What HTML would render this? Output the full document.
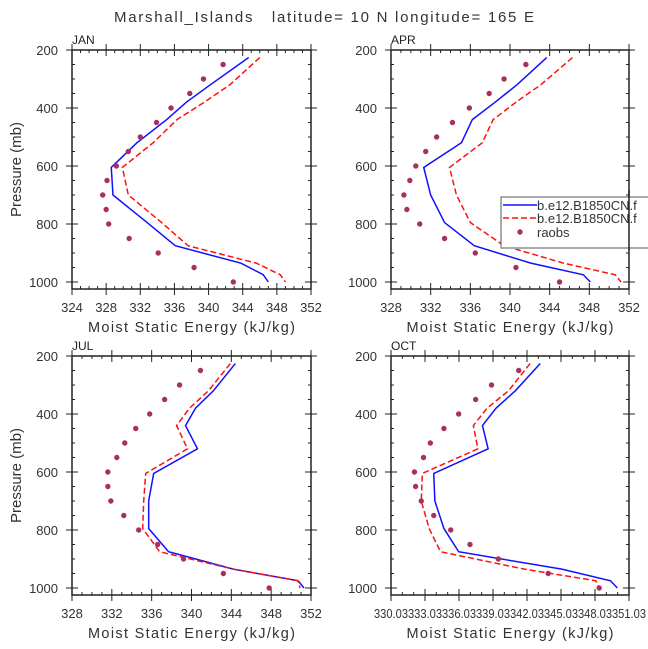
<!DOCTYPE html>
<html><head><meta charset="utf-8"><style>
body{margin:0;background:#fff;}
svg{display:block;font-family:"Liberation Sans",sans-serif;}
</style></head><body>
<svg id="chart" width="648" height="649" viewBox="0 0 648 649" xmlns="http://www.w3.org/2000/svg">
<text x="324" y="22" text-anchor="middle" font-size="15" fill="#333" textLength="420" xml:space="preserve">Marshall_Islands   latitude= 10 N longitude= 165 E</text>
</svg>
<script>
const modelLevels=[226,320,380,440,520,605,700,795,875,935,975,1000];
const obsLevels=[250,300,350,400,450,500,550,600,650,700,750,800,850,900,950,1000];
const seriesNames=["b.e12.B1850CN.f","b.e12.B1850CN.f","raobs"];
const janBlue=[344.7,340.2,337.4,335.1,331.6,328.6,328.8,332.8,336.1,343.8,346.4,347.0];
const janRed=[346.0,342.5,339.5,336.3,333.5,329.9,330.6,334.5,337.6,345.6,348.4,349.0];
const janObs=[341.7,339.4,337.8,335.6,333.9,332.0,330.6,329.2,328.1,327.6,328.0,328.3,330.7,334.1,338.3,342.9];
const aprBlue=[343.7,340.7,338.5,336.2,335.1,331.3,332.0,333.4,336.4,342.1,347.4,348.1];
const aprRed=[346.3,343.1,340.6,338.3,337.2,333.9,334.6,336.0,339.4,345.4,350.6,351.2];
const aprObs=[341.6,339.4,337.9,335.9,334.2,332.6,331.5,330.5,329.9,329.3,329.6,330.9,333.4,336.5,340.6,345.0];
const julBlue=[344.4,342.2,340.4,339.4,340.6,336.2,335.7,335.7,337.7,344.2,350.7,351.3];
const julRed=[343.9,341.7,339.8,338.5,339.6,335.4,335.2,335.1,336.8,344.2,350.7,350.9];
const julObs=[340.9,338.8,337.3,335.8,334.4,333.3,332.5,331.6,331.6,331.9,333.2,334.7,336.6,339.2,343.2,347.8];
const octBlue=[343.2,341.0,339.3,338.1,338.6,333.8,333.9,334.7,336.0,345.1,349.4,350.0];
const octRed=[342.3,340.4,338.5,337.3,337.7,332.8,332.7,333.4,334.4,341.8,348.1,348.4];
const octObs=[341.3,338.9,337.5,336.0,334.7,333.5,332.9,332.1,332.2,332.7,333.8,335.3,337.0,339.5,343.9,348.4];
const janXTicks=["324","328","332","336","340","344","348","352"];
const aprXTicks=["328","332","336","340","344","348","352"];
const julXTicks=["328","332","336","340","344","348","352"];
const octXTicks=["330.03","333.03","336.03","339.03","342.03","345.03","348.03","351.03"];
const yTicks=["200","400","600","800","1000"];

const NS="http://www.w3.org/2000/svg";
const svg=document.getElementById("chart");
function el(tag,attrs,parent){const e=document.createElementNS(NS,tag);for(const k in attrs)e.setAttribute(k,attrs[k]);(parent||svg).appendChild(e);return e;}

const panels=[
 {id:"jan",label:"JAN",x0:72,x1:311,top:50,y1000:282,bot:289,xmin:324,xmax:352,xstep:4,ticks:janXTicks,blue:janBlue,red:janRed,obs:janObs,ytitle:true,legend:false},
 {id:"apr",label:"APR",x0:391,x1:629,top:50,y1000:282,bot:289,xmin:328,xmax:352,xstep:4,ticks:aprXTicks,blue:aprBlue,red:aprRed,obs:aprObs,ytitle:false,legend:true},
 {id:"jul",label:"JUL",x0:72,x1:311,top:356,y1000:588,bot:595,xmin:328,xmax:352,xstep:4,ticks:julXTicks,blue:julBlue,red:julRed,obs:julObs,ytitle:true,legend:false},
 {id:"oct",label:"OCT",x0:391,x1:629,top:356,y1000:588,bot:595,xmin:330.03,xmax:351.03,xstep:3,ticks:octXTicks,blue:octBlue,red:octRed,obs:octObs,ytitle:false,legend:false}
];

panels.forEach(p=>{
 const g=el("g",{});
 
 
 const xs=v=>p.x0+(v-p.xmin)/(p.xmax-p.xmin)*(p.x1-p.x0);
 const ys=v=>p.top+(v-200)/800*(p.y1000-p.top);
 const box=el("rect",{x:p.x0,y:p.top,width:p.x1-p.x0,height:p.bot-p.top,fill:"none",stroke:"#222","stroke-width":1.5},g);
 
 
 for(let v=200;v<=1000;v+=50){
  const y=ys(v);const maj=v%200===0;const L=maj?6:3;
  el("line",{x1:p.x0-(maj?L:0),x2:p.x0+L,y1:y,y2:y,stroke:"#222"},g);
  el("line",{x1:p.x1+(maj?L:0),x2:p.x1-L,y1:y,y2:y,stroke:"#222"},g);
 }
 yTicks.forEach(t=>{
  const tl=el("text",{x:p.x0-14,y:ys(+t)+5,"text-anchor":"end","font-size":13,fill:"#333"},g);
  tl.textContent=t;
  
  
 });
 for(let i=0;;i++){
  const v=p.xmin+i;if(v>p.xmax+1e-6)break;
  const x=xs(v);const maj=Math.abs(((v-p.xmin)/p.xstep)-Math.round((v-p.xmin)/p.xstep))<1e-6;const L=maj?6:3;
  el("line",{x1:x,x2:x,y1:p.bot+(maj?L:0),y2:p.bot-L,stroke:"#222"},g);
  el("line",{x1:x,x2:x,y1:p.top-(maj?L:0),y2:p.top+L,stroke:"#222"},g);
 }
 p.ticks.forEach((t,i)=>{
  const attrs={x:xs(p.xmin+i*p.xstep),y:p.bot+23,"text-anchor":"middle","font-size":13,fill:"#333"};
  if(t.length>4){attrs.textLength=34;attrs.lengthAdjust="spacingAndGlyphs";}
  const tl=el("text",attrs,g);
  tl.textContent=t;
  
  
 });
 const xt=el("text",{x:(p.x0+p.x1)/2,y:p.bot+43,"text-anchor":"middle","font-size":14.5,fill:"#333",textLength:207},g);
 xt.textContent="Moist Static Energy (kJ/kg)";
 
 
 if(p.ytitle){
  const cy=(p.top+p.bot)/2;
  const yt=el("text",{x:0,y:0,transform:`translate(21,${cy}) rotate(-90)`,"text-anchor":"middle","font-size":15,fill:"#333"},g);
  yt.textContent="Pressure (mb)";
  
  
 }
 const lab=el("text",{x:p.x0,y:p.top-6,"font-size":12,fill:"#222"},g);
 lab.textContent=p.label;
 
 
 const bl=el("polyline",{points:modelLevels.map((l,i)=>xs(p.blue[i])+","+ys(l)).join(" "),fill:"none",stroke:"#1010ff","stroke-width":1.5},g);
 
 
 const rl=el("polyline",{points:modelLevels.map((l,i)=>xs(p.red[i])+","+ys(l)).join(" "),fill:"none",stroke:"#ff1010","stroke-width":1.5,"stroke-dasharray":"6,3"},g);
 
 
 obsLevels.forEach((l,i)=>{
  const d=el("circle",{cx:xs(p.obs[i]),cy:ys(l),r:2.7,fill:"#a8305e"},g);
  
  
 });
 if(p.legend){
  const lg=el("g",{},g);
  
  
  el("rect",{x:501,y:197,width:150,height:51,fill:"#fff",stroke:"#555","stroke-width":1},lg);
  el("line",{x1:501,x2:648,y1:248,y2:248,stroke:"#aaa","stroke-width":2},lg);
  const e1=el("line",{x1:503,x2:537,y1:205,y2:205,stroke:"#1010ff","stroke-width":1.5},lg);
  
  
  const e2=el("line",{x1:503,x2:537,y1:218,y2:218,stroke:"#ff1010","stroke-width":1.5,"stroke-dasharray":"6,3"},lg);
  
  
  const e3=el("circle",{cx:520,cy:232,r:2.7,fill:"#a8305e"},lg);
  
  
  [209,222,236].forEach((y,i)=>{const t=el("text",{x:537,y:y+1,"font-size":13,fill:"#333"},lg);t.textContent=seriesNames[i];
   
   });
  el("line",{x1:629,x2:629,y1:190,y2:250,stroke:"#222","stroke-width":1.5},lg);
 }
});
</script>
</body></html>
